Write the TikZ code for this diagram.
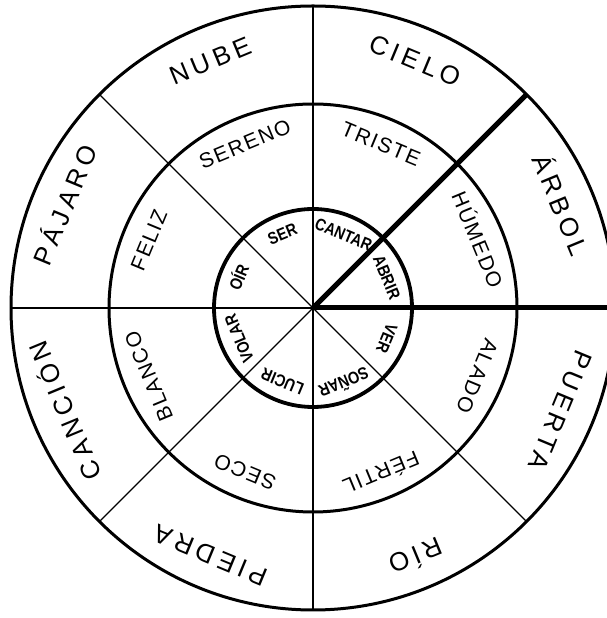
\documentclass[tikz,border=0pt]{standalone}
\usepackage{fontspec}
\setmainfont{Liberation Sans}
\newfontfamily\wideletters[LetterSpace=18]{Liberation Sans}
\newfontfamily\midletters[LetterSpace=8]{Liberation Sans}
\newfontfamily\tightletters[FakeStretch=0.85]{Liberation Sans Bold}
\usetikzlibrary{calc}

\begin{document}
\begin{tikzpicture}[x=1pt, y=1pt, inner sep=0pt]
  \tikzstyle{ring}=[line width=3pt]
  \tikzstyle{spoke}=[line width=1.4pt]
  \tikzstyle{heavy}=[line width=5pt]
  \tikzstyle{outerword}=[font=\fontsize{26}{26}\selectfont\wideletters, text height=18.5pt, text depth=0pt]
  \tikzstyle{midword}=[font=\fontsize{21}{21}\selectfont\midletters, text height=15pt, text depth=0pt]
  \tikzstyle{innerword}=[font=\fontsize{17}{17}\selectfont\tightletters, text height=12pt, text depth=0pt]
  \useasboundingbox (0,0) rectangle (607,618);
  \coordinate (c) at (313,310);
  \foreach \a in {0,45,...,315}
    \path (c) ++(\a:302) coordinate (rim\a);
  \foreach \a in {90,135,180,225,270,315}
    \draw[spoke] (c) -- (rim\a);
  \draw[ring] (c) circle[radius=302];
  \draw[ring] (c) circle[radius=204];
  \draw[ring, line width=3.8pt] (c) circle[radius=99];
  \draw[heavy] (c) -- (rim45);
  \draw[heavy] (c) -- (rim0);
  \foreach \ang/\word [count=\i] in {67.5/CIELO, 112.5/NUBE, 157.5/PÁJARO, 202.5/CANCIÓN, 247.5/PIEDRA, 292.5/RÍO, 337.5/PUERTA, 22.5/ÁRBOL}
    \node[outerword, rotate=\ang-90] (outer\i) at ($(c)+(\ang:268)$) {\word};
  \foreach \ang/\word [count=\i] in {67.5/TRISTE, 112.5/SERENO, 157.5/FELIZ, 202.5/BLANCO, 247.5/SECO, 292.5/FÉRTIL, 337.5/ALADO, 22.5/HÚMEDO}
    \node[midword, rotate=\ang-90] (mid\i) at ($(c)+(\ang:178)$) {\word};
  \foreach \ang/\word [count=\i] in {67.5/CANTAR, 112.5/SER, 157.5/OÍR, 202.5/VOLAR, 247.5/LUCIR, 292.5/SOÑAR, 337.5/VER, 22.5/ABRIR}
    \node[innerword, rotate=\ang-90] (inner\i) at ($(c)+(\ang:80)$) {\word};
\end{tikzpicture}
\end{document}
